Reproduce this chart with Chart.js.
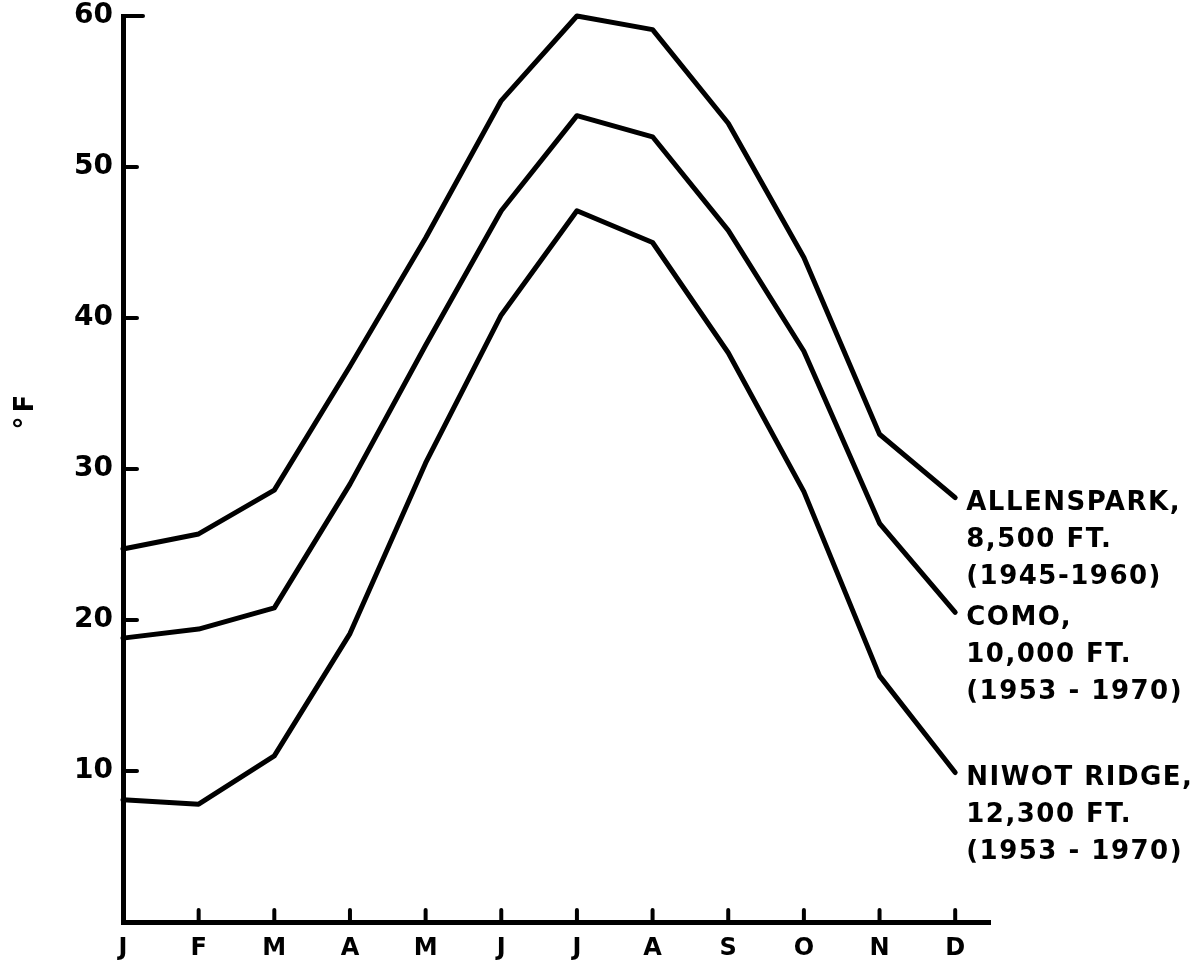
<!DOCTYPE html>
<html>
<head>
<meta charset="utf-8">
<script src="https://cdn.jsdelivr.net/npm/chart.js@4"></script>
<style>
  html, body { margin: 0; padding: 0; background: #fff; }
</style>
</head>
<body>
<canvas id="tempChart" width="1199" height="962"></canvas>
<script>
// ===============================
// DATA
// ===============================
const months = ["J", "F", "M", "A", "M", "J", "J", "A", "S", "O", "N", "D"];
const yTicks = [10, 20, 30, 40, 50, 60];

const allenspark = [24.7, 25.7, 28.6, 36.8, 45.3, 54.4, 60.0, 59.1, 52.9, 44.0, 32.3, 28.1];
const como = [18.8, 19.4, 20.8, 29.0, 38.2, 47.1, 53.4, 52.0, 45.8, 37.8, 26.4, 20.5];
const niwot = [8.1, 7.8, 11.0, 19.1, 30.4, 40.2, 47.1, 45.0, 37.7, 28.5, 16.3, 9.9];

const allensparkLabel = ["ALLENSPARK,", "8,500 FT.", "(1945-1960)"];
const comoLabel = ["COMO,", "10,000 FT.", "(1953 - 1970)"];
const niwotLabel = ["NIWOT RIDGE,", "12,300 FT.", "(1953 - 1970)"];

const yTitle = "°F";

const FONT = "'DejaVu Sans', sans-serif";

// ===============================
// PLUGINS
// ===============================
// tick marks point inward, like the hand-drawn original
const inwardTicks = {
  id: "inwardTicks",
  afterDraw(chart) {
    const { ctx, chartArea, scales } = chart;
    ctx.save();
    ctx.strokeStyle = "#000";
    ctx.lineWidth = 4;
    ctx.lineCap = "round";
    scales.y.ticks.forEach((t) => {
      const y = scales.y.getPixelForValue(t.value);
      ctx.beginPath();
      ctx.moveTo(chartArea.left, y);
      ctx.lineTo(chartArea.left + (t.value === 60 ? 20 : 14), y);
      ctx.stroke();
    });
    scales.x.ticks.forEach((t) => {
      if (t.value === 0) return;
      const x = scales.x.getPixelForValue(t.value);
      ctx.beginPath();
      ctx.moveTo(x, chartArea.bottom);
      ctx.lineTo(x, chartArea.bottom - 12);
      ctx.stroke();
    });
    ctx.restore();
  },
};

// station names written at the end of each line, plus the °F title
const textLabels = {
  id: "textLabels",
  afterDraw(chart) {
    const { ctx, chartArea } = chart;
    ctx.save();
    ctx.fillStyle = "#000";
    ctx.font = "bold 26px " + FONT;
    ctx.textBaseline = "middle";
    ctx.textAlign = "left";
    ctx.letterSpacing = "1.5px";
    chart.data.datasets.forEach((ds, i) => {
      const meta = chart.getDatasetMeta(i);
      const last = meta.data[meta.data.length - 1];
      ds.endText.forEach((line, j) => {
        ctx.fillText(line, last.x + 11, last.y + 6 + j * 37);
      });
    });

    // y axis title, rotated, sitting a bit above the middle
    ctx.letterSpacing = "4px";
    ctx.textAlign = "center";
    ctx.translate(26, chartArea.top + (chartArea.bottom - chartArea.top) * 0.435);
    ctx.rotate(-Math.PI / 2);
    ctx.fillText(yTitle, 0, 0);
    ctx.restore();
  },
};

// ===============================
// CHART
// ===============================
const lineStyle = {
  borderColor: "#000",
  borderWidth: 5,
  borderCapStyle: "round",
  borderJoinStyle: "round",
  pointRadius: 0,
  tension: 0,
  fill: false,
  clip: false,
};

const toPoints = (arr) => arr.map((v, i) => ({ x: i, y: v }));

new Chart(document.getElementById("tempChart"), {
  type: "line",
  data: {
    datasets: [
      { label: "Allenspark", data: toPoints(allenspark), endText: allensparkLabel, ...lineStyle },
      { label: "Como", data: toPoints(como), endText: comoLabel, ...lineStyle },
      { label: "Niwot Ridge", data: toPoints(niwot), endText: niwotLabel, ...lineStyle },
    ],
  },
  options: {
    responsive: false,
    animation: false,
    devicePixelRatio: 1,
    layout: { padding: { top: 16, right: 209, bottom: 0, left: 0 } },
    plugins: {
      legend: { display: false },
      tooltip: { enabled: false },
    },
    scales: {
      x: {
        type: "linear",
        min: 0,
        max: 11.46,
        afterBuildTicks: (scale) => {
          scale.ticks = months.map((_, i) => ({ value: i }));
        },
        afterFit: (scale) => {
          scale.height = 40;
          scale.paddingLeft = 0;
          scale.paddingRight = 0;
        },
        ticks: {
          callback: (v) => months[v],
          color: "#000",
          font: { family: FONT, size: 24, weight: "bold" },
          padding: 12,
          maxRotation: 0,
          autoSkip: false,
        },
        grid: { display: false, drawTicks: false },
        border: { display: true, color: "#000", width: 5 },
      },
      y: {
        type: "linear",
        min: 0,
        max: 60,
        afterBuildTicks: (scale) => {
          scale.ticks = yTicks.map((v) => ({ value: v }));
        },
        afterFit: (scale) => {
          scale.width = 123;
          scale.paddingTop = 0;
          scale.paddingBottom = 0;
        },
        ticks: {
          color: "#000",
          font: { family: FONT, size: 28, weight: "bold" },
          padding: 10,
        },
        grid: { display: false, drawTicks: false },
        border: { display: true, color: "#000", width: 5 },
      },
    },
  },
  plugins: [inwardTicks, textLabels],
});
</script>
</body>
</html>
